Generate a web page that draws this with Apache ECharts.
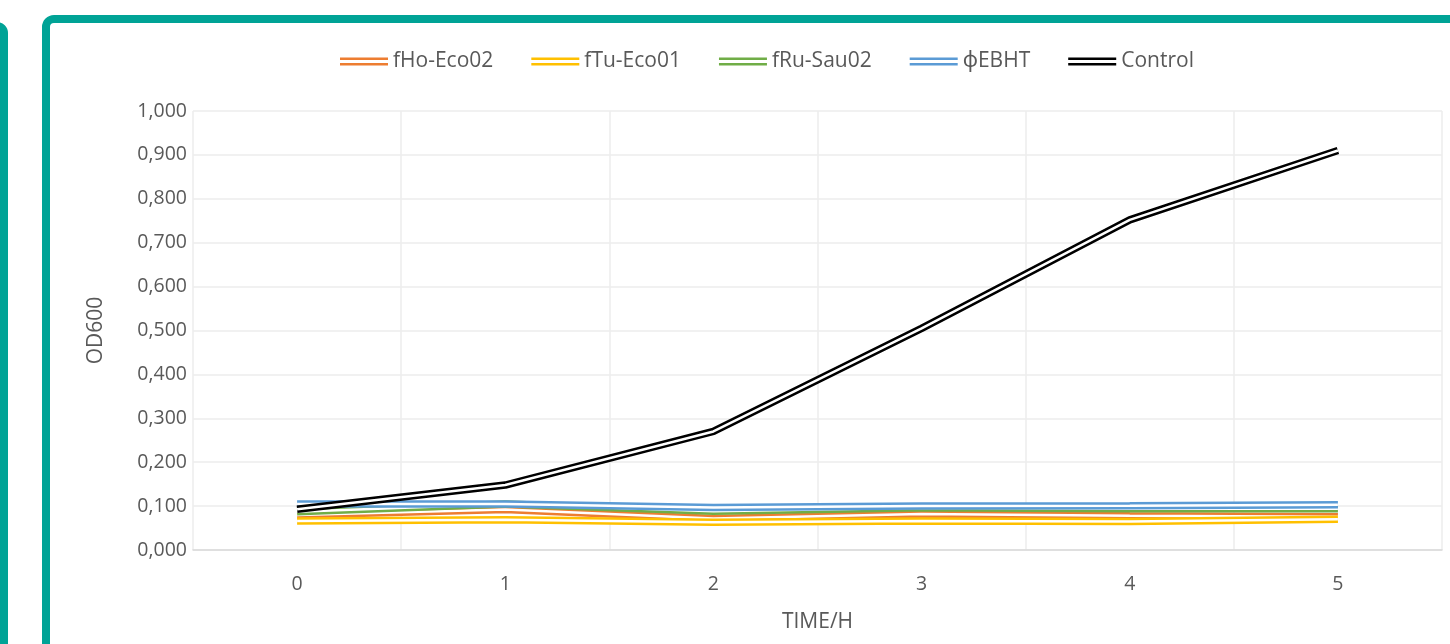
<!DOCTYPE html>
<html>
<head>
<meta charset="utf-8">
<script src="https://cdn.jsdelivr.net/npm/echarts@6/dist/echarts.min.js"></script>
<style>
html,body{margin:0;padding:0;background:#fff;}
#chart{width:1450px;height:644px;}
</style>
</head>
<body>
<div id="chart"></div>
<script>
var categories = ['0', '1', '2', '3', '4', '5'];
var seriesNames = ['fHo-Eco02', 'fTu-Eco01', 'fRu-Sau02', 'ϕEBHT', 'Control'];
var fHoEco02 = [0.080, 0.092, 0.072, 0.082, 0.078, 0.076];
var fTuEco01 = [0.066, 0.069, 0.063, 0.066, 0.065, 0.070];
var fRuSau02 = [0.087, 0.105, 0.088, 0.096, 0.094, 0.094];
var phiEBHT  = [0.105, 0.105, 0.097, 0.100, 0.101, 0.103];
var control  = [0.093, 0.148, 0.270, 0.505, 0.752, 0.910];
var yTicks = { min: 0, max: 1, interval: 0.1 };

var colors = ['#ED7D31', '#FFC000', '#70AD47', '#5B9BD5', '#000000'];
var values = [fHoEco02, fTuEco01, fRuSau02, phiEBHT, control];
var font = '"Open Sans", "Noto Sans", sans-serif';

var series = [];
values.forEach(function (d, i) {
  series.push({
    name: seriesNames[i], type: 'line', data: d, symbol: 'none',
    lineStyle: { color: colors[i], width: 7.5 }, itemStyle: { color: colors[i] }
  });
  series.push({
    name: seriesNames[i] + '_gap', type: 'line', data: d, symbol: 'none', silent: true,
    lineStyle: { color: '#ffffff', width: 2.5 }
  });
});

var chart = echarts.init(document.getElementById('chart'), null, { renderer: 'canvas' });
chart.setOption({
  animation: false,
  backgroundColor: '#ffffff',
  color: colors,
  graphic: [
    { type: 'rect', shape: { x: -200, y: 26, width: 204, height: 800, r: 7 },
      style: { fill: 'none', stroke: '#00A396', lineWidth: 8 }, z: 100 },
    { type: 'rect', shape: { x: 46, y: 19, width: 1500, height: 800, r: 8 },
      style: { fill: 'none', stroke: '#00A396', lineWidth: 8 }, z: 100 }
  ],
  legend: {
    data: seriesNames,
    top: 46,
    left: 335,
    itemWidth: 48,
    itemHeight: 8,
    itemGap: 38,
    icon: 'path://M0,0H48V2.6H0Z M0,5.4H48V8H0Z',
    textStyle: { fontFamily: font, fontSize: 21, color: '#595959' }
  },
  grid: { left: 193, right: 8, top: 111, bottom: 94, containLabel: false },
  xAxis: {
    type: 'category',
    data: categories,
    boundaryGap: true,
    name: 'TIME/H',
    nameLocation: 'middle',
    nameGap: 62,
    nameTextStyle: { fontFamily: font, fontSize: 21, color: '#595959' },
    axisLine: { lineStyle: { color: '#D9D9D9', width: 1.5 } },
    axisTick: { show: false },
    axisLabel: { fontFamily: font, fontSize: 19.5, color: '#595959', margin: 24 },
    splitLine: { show: true, lineStyle: { color: '#EDEDED', width: 1.5 } }
  },
  yAxis: {
    type: 'value',
    min: yTicks.min, max: yTicks.max, interval: yTicks.interval,
    name: 'OD600',
    nameLocation: 'middle',
    nameGap: 86,
    nameRotate: 90,
    nameTextStyle: { fontFamily: font, fontSize: 21, color: '#595959' },
    axisLine: { show: false },
    axisTick: { show: false },
    axisLabel: {
      fontFamily: font, fontSize: 19.5, color: '#595959', margin: 6,
      formatter: function (v) { return v.toFixed(3).replace('.', ','); }
    },
    splitLine: { lineStyle: { color: '#EDEDED', width: 1.5 } }
  },
  series: series
});
</script>
</body>
</html>
